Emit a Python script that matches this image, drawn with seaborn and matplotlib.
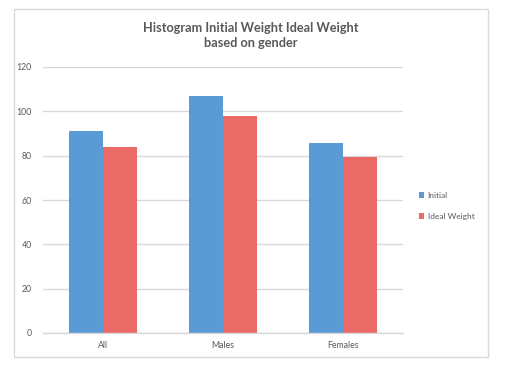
import matplotlib
matplotlib.use("Agg")
import matplotlib.pyplot as plt
import seaborn as sns
import pandas as pd
from matplotlib.patches import Rectangle, Patch

categories = ["All", "Males", "Females"]
initial = [91.0, 106.8, 85.6]
ideal_weight = [83.8, 97.7, 79.3]
series_names = ["Initial", "Ideal Weight"]
y_ticks = [0, 20, 40, 60, 80, 100, 120]
title = "Histogram Initial Weight Ideal Weight\nbased on gender"

colors = ["#5B9BD5", "#E96A67"]

df = pd.DataFrame({
    "category": categories * 2,
    "value": initial + ideal_weight,
    "series": [series_names[0]] * 3 + [series_names[1]] * 3,
})

sns.set_style("white")
plt.rcParams["font.family"] = ["Lato", "DejaVu Sans"]

fig = plt.figure(figsize=(5.05, 3.70), dpi=100)
ax = fig.add_axes([43/505, 1-333/370, 360/505, 266/370])

sns.barplot(data=df, x="category", y="value", hue="series", order=categories,
            hue_order=series_names, palette=colors, width=0.567, ax=ax,
            saturation=1, legend=False, linewidth=0, edgecolor="none")

ax.set_ylim(0, 120)
ax.set_xlim(-0.5, 2.5)
ax.set_yticks(y_ticks)
ax.set_yticklabels([str(t) for t in y_ticks])
ax.yaxis.grid(True, color="#D9D9D9", linewidth=1)
ax.set_axisbelow(True)
ax.set_xlabel("")
ax.set_ylabel("")
for s in ["top", "right", "left"]:
    ax.spines[s].set_visible(False)
ax.spines["bottom"].set_color("#D9D9D9")
ax.spines["bottom"].set_linewidth(1)
ax.tick_params(axis="both", length=0, labelsize=6.3, colors="#595959", pad=8)
ax.tick_params(axis="x", pad=6)

fig.text(0.497, 0.905, title, ha="center", va="center", fontsize=9.2,
         fontweight="bold", color="#595959", linespacing=1.3)

handles = [Patch(facecolor=c, edgecolor="none") for c in colors]
fig.legend(handles, series_names, loc="center left",
           bbox_to_anchor=(411/505, 1-206/370), frameon=False, fontsize=6,
           handlelength=0.7, handleheight=0.7, handletextpad=0.4,
           labelspacing=1.6, labelcolor="#595959")

fig.add_artist(Rectangle((14/505, 1-357/370), 474/505, 348/370,
                         transform=fig.transFigure, fill=False,
                         edgecolor="#D9D9D9", linewidth=1))

fig.savefig("out.png", dpi=100, facecolor="white")
